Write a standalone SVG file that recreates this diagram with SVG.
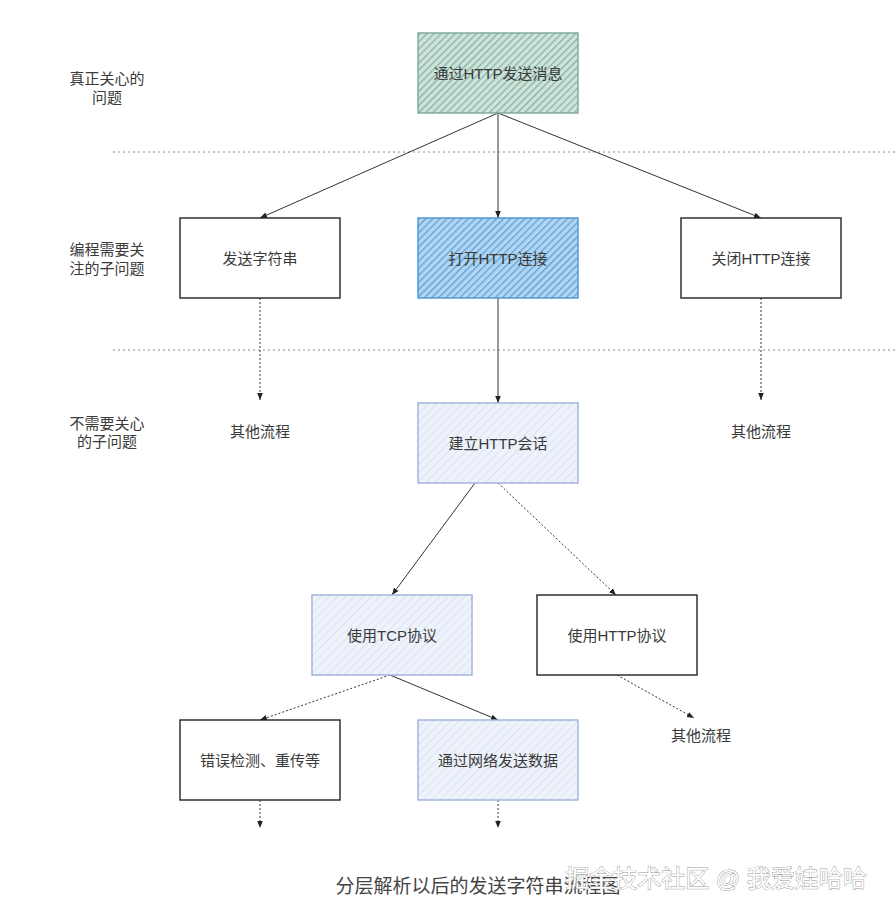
<svg xmlns="http://www.w3.org/2000/svg" width="896" height="916" viewBox="0 0 896 916">
<style>
text{font-family:"Liberation Sans","Noto Sans CJK SC",sans-serif;fill:#3a3a3a;font-size:15px;text-anchor:middle;dominant-baseline:central}
.side{font-size:15px}
.box{stroke-width:1.4}
.plain{fill:#fff;stroke:#222}
.green{fill:url(#hg);stroke:#7aa898}
.blue{fill:url(#hb);stroke:#4a94cf}
.light{fill:url(#hl);stroke:#9db1da}
.sep{stroke:#888;stroke-width:1;stroke-dasharray:2 3}
.c{stroke:#333;stroke-width:1;fill:none}
.d{stroke:#333;stroke-width:1;fill:none;stroke-dasharray:2 2}
</style>
<defs>
<pattern id="hg" width="5" height="5" patternUnits="userSpaceOnUse" patternTransform="rotate(45)">
<rect width="5" height="5" fill="#cfe3db"/><line x1="0" y1="0" x2="0" y2="5" stroke="#84b4a2" stroke-width="2.6"/>
</pattern>
<pattern id="hb" width="5" height="5" patternUnits="userSpaceOnUse" patternTransform="rotate(45)">
<rect width="5" height="5" fill="#b3d5f0"/><line x1="0" y1="0" x2="0" y2="5" stroke="#5aa2dc" stroke-width="2.6"/>
</pattern>
<pattern id="hl" width="6" height="6" patternUnits="userSpaceOnUse" patternTransform="rotate(45)">
<rect width="6" height="6" fill="#eef2fa"/><line x1="0" y1="0" x2="0" y2="6" stroke="#dbe3f3" stroke-width="2"/>
</pattern>
<marker id="a" viewBox="0 0 10 10" refX="10" refY="5" markerWidth="7" markerHeight="7" orient="auto-start-reverse">
<path d="M0,1 L10,5 L0,9 z" fill="#222"/>
</marker>
</defs>

<g id="labels">
<text class="side" x="107" y="78">真正关心的</text>
<text class="side" x="107" y="97">问题</text>
<text class="side" x="107" y="249">编程需要关</text>
<text class="side" x="107" y="268">注的子问题</text>
<text class="side" x="107" y="423">不需要关心</text>
<text class="side" x="107" y="441">的子问题</text>
</g>

<g id="separators">
<line class="sep" x1="113" y1="152" x2="896" y2="152"/>
<line class="sep" x1="113" y1="350" x2="896" y2="350"/>
</g>

<g id="connectors">
<line class="c" x1="498" y1="113" x2="260" y2="218" marker-end="url(#a)"/>
<line class="c" x1="498" y1="113" x2="498" y2="218" marker-end="url(#a)"/>
<line class="c" x1="498" y1="113" x2="761" y2="218" marker-end="url(#a)"/>
<line class="d" x1="260" y1="298" x2="260" y2="400" marker-end="url(#a)"/>
<line class="d" x1="761" y1="298" x2="761" y2="400" marker-end="url(#a)"/>
<line class="c" x1="498" y1="298" x2="498" y2="403" marker-end="url(#a)"/>
<line class="c" x1="475" y1="483" x2="392" y2="595" marker-end="url(#a)"/>
<line class="d" x1="498" y1="483" x2="616" y2="595" marker-end="url(#a)"/>
<line class="d" x1="390" y1="675" x2="260" y2="720" marker-end="url(#a)"/>
<line class="c" x1="390" y1="675" x2="498" y2="720" marker-end="url(#a)"/>
<line class="d" x1="617" y1="675" x2="694" y2="718" marker-end="url(#a)"/>
<line class="d" x1="260" y1="800" x2="260" y2="828" marker-end="url(#a)"/>
<line class="d" x1="498" y1="800" x2="498" y2="828" marker-end="url(#a)"/>
</g>

<g id="n1"><rect class="box green" x="418" y="33" width="160" height="80"/><text x="498" y="73">通过HTTP发送消息</text></g>
<g id="n2"><rect class="box plain" x="180" y="218" width="160" height="80"/><text x="260" y="258">发送字符串</text></g>
<g id="n3"><rect class="box blue" x="418" y="218" width="160" height="80"/><text x="498" y="258">打开HTTP连接</text></g>
<g id="n4"><rect class="box plain" x="681" y="218" width="160" height="80"/><text x="761" y="258">关闭HTTP连接</text></g>
<g id="o1"><text x="260" y="431">其他流程</text></g>
<g id="o2"><text x="761" y="431">其他流程</text></g>
<g id="n5"><rect class="box light" x="418" y="403" width="160" height="80"/><text x="498" y="443">建立HTTP会话</text></g>
<g id="n6"><rect class="box light" x="312" y="595" width="160" height="80"/><text x="392" y="635">使用TCP协议</text></g>
<g id="n7"><rect class="box plain" x="537" y="595" width="160" height="80"/><text x="617" y="635">使用HTTP协议</text></g>
<g id="o3"><text x="701" y="735">其他流程</text></g>
<g id="n8"><rect class="box plain" x="180" y="720" width="160" height="80"/><text x="260" y="760">错误检测、重传等</text></g>
<g id="n9"><rect class="box light" x="418" y="720" width="160" height="80"/><text x="498" y="760">通过网络发送数据</text></g>

<g id="caption">
<text x="478" y="886" style="font-size:19px;fill:#444">分层解析以后的发送字符串流程图</text>
<text x="716" y="878" style="font-size:24px;fill:#fff;stroke:#999;stroke-width:0.9;paint-order:stroke">掘金技术社区 @ 我爱娃哈哈</text>
</g>
</svg>
